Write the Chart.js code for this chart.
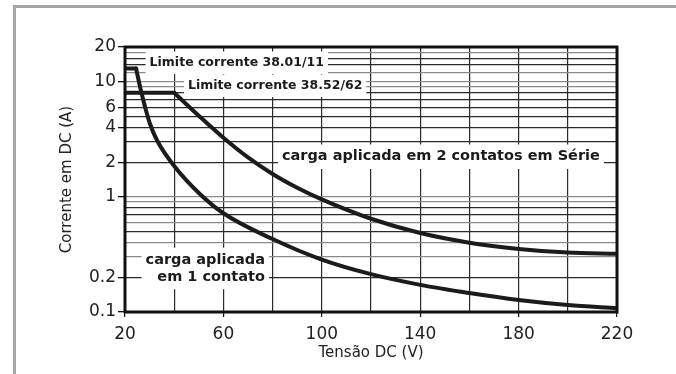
<!DOCTYPE html>
<html>
<head>
<meta charset="utf-8">
<script src="https://cdn.jsdelivr.net/npm/chart.js@4.4.1/dist/chart.umd.min.js"></script>
<style>
  html, body { margin: 0; padding: 0; background: #fff; }
  #wrap { position: relative; width: 676px; height: 374px; overflow: hidden; }
  #frame { position: absolute; left: 13px; top: 5px; right: -10px; bottom: -10px; border-top: 3px solid #a6a6a6; border-left: 3px solid #a6a6a6; }
  canvas { position: absolute; left: 0; top: 0; }
</style>
</head>
<body>
<div id="wrap">
  <div id="frame"></div>
  <canvas id="dcChart" width="676" height="374"></canvas>
</div>
<script>
// current limit of 38.01/11, then load applied on 1 contact
const limit1V = [20, 24.5];
const limit1A = [13, 13];
const volts1 = [24.5, 26.4, 28.1, 30, 33, 40, 50, 60, 80, 100, 120, 140, 160, 180, 200, 220];
const amps1 = [13, 8.5, 6.1, 4.4, 3.1, 1.85, 1.08, 0.72, 0.43, 0.285, 0.213, 0.172, 0.146, 0.127, 0.115, 0.108];

// current limit of 38.52/62, then load applied on 2 contacts in series
const limit2V = [20, 40];
const limit2A = [8, 8];
const volts2 = [40, 50, 60, 70, 80, 90, 100, 120, 140, 160, 180, 200, 220];
const amps2 = [8, 5.05, 3.26, 2.2, 1.58, 1.2, 0.95, 0.645, 0.485, 0.40, 0.353, 0.328, 0.32];

// axes
const xGrid = [20, 40, 60, 80, 100, 120, 140, 160, 180, 200, 220];
const xLabels = [20, 60, 100, 140, 180, 220];
const yGrid = [0.1, 0.2, 0.3, 0.4, 0.5, 0.6, 0.7, 0.8, 0.9, 1, 2, 3, 4, 5, 6, 7, 8, 9, 10, 12, 14, 16, 18, 20];
const yLabels = [0.1, 0.2, 1, 2, 4, 6, 10, 20];
const yDark = [0.2, 0.5, 0.7, 0.8, 2, 3, 4, 5, 6, 7, 8, 14, 16];

// notes written on the chart
const noteTexts = [['Limite corrente 38.01/11'], ['Limite corrente 38.52/62'], ['carga aplicada em 2 contatos em Série'], ['carga aplicada', 'em 1 contato']];
const noteX = [30, 45.6, 83.8, 76.9];
const noteY = [14.6, 9.2, 2.23, 0.283];
const noteAlign = ['left', 'left', 'left', 'right'];
const noteSizes = [12.5, 12.5, 14.5, 14.5];

const ink = '#1b1b1b';
const tickFont = { family: '"DejaVu Sans", sans-serif', size: 17 };
const titleFont = { family: '"DejaVu Sans", sans-serif', size: 15 };

const curve = (label, xs, ys) => ({
    label,
    data: xs.map((v, i) => ({ x: v, y: ys[i] })),
    showLine: true,
    borderColor: ink,
    borderWidth: 4,
    borderCapStyle: 'round',
    borderJoinStyle: 'round',
    pointRadius: 0,
    cubicInterpolationMode: 'monotone'
});

const notesPlugin = {
    id: 'notes',
    beforeDatasetsDraw(chart) {
        const { ctx, scales: { x, y } } = chart;
        ctx.save();
        noteTexts.forEach((lines, i) => {
            const size = noteSizes[i];
            ctx.font = `bold ${size}px "DejaVu Sans", sans-serif`;
            const px = x.getPixelForValue(noteX[i]);
            const py = y.getPixelForValue(noteY[i]);
            const w = Math.max(...lines.map(t => ctx.measureText(t).width));
            const lh = 17;
            const left = noteAlign[i] === 'right' ? px - w : px;
            ctx.fillStyle = '#fff';
            ctx.fillRect(left - 4, py - size / 2 - 5, w + 8, lh * (lines.length - 1) + size + 10);
            ctx.fillStyle = ink;
            ctx.textAlign = noteAlign[i];
            ctx.textBaseline = 'middle';
            lines.forEach((t, k) => ctx.fillText(t, px, py + k * lh));
        });
        ctx.restore();
    },
    afterDatasetsDraw(chart) {
        const { ctx, chartArea: a } = chart;
        ctx.save();
        ctx.strokeStyle = '#111';
        ctx.lineWidth = 3;
        ctx.strokeRect(a.left, a.top, a.right - a.left, a.bottom - a.top);
        ctx.restore();
    }
};

new Chart(document.getElementById('dcChart'), {
    type: 'scatter',
    data: {
        datasets: [
            curve('Limite corrente 38.01/11', limit1V, limit1A),
            curve('carga aplicada em 1 contato', volts1, amps1),
            curve('Limite corrente 38.52/62', limit2V, limit2A),
            curve('carga aplicada em 2 contatos em Série', volts2, amps2)
        ]
    },
    options: {
        responsive: false,
        animation: false,
        layout: { padding: { left: 0, top: 47, right: 59, bottom: 0 } },
        plugins: { legend: { display: false }, tooltip: { enabled: false } },
        scales: {
            x: {
                type: 'linear',
                min: 20,
                max: 220,
                afterFit: s => { s.height = 62; },
                afterBuildTicks: s => { s.ticks = xGrid.map(v => ({ value: v })); },
                ticks: {
                    autoSkip: false,
                    maxRotation: 0,
                    padding: 7,
                    color: '#222',
                    font: tickFont,
                    callback: v => xLabels.includes(v) ? String(v) : ''
                },
                grid: {
                    color: '#2a2a2a',
                    lineWidth: 1.2,
                    tickLength: 5,
                    tickColor: c => xLabels.includes(c.tick.value) ? '#111' : 'rgba(0,0,0,0)'
                },
                border: { display: false },
                title: { display: true, text: 'Tensão DC (V)', color: '#222', font: titleFont, padding: { top: 0, bottom: 12 } }
            },
            y: {
                type: 'logarithmic',
                min: 0.1,
                max: 20,
                afterFit: s => { s.width = 125; },
                afterBuildTicks: s => { s.ticks = yGrid.map(v => ({ value: v })); },
                ticks: {
                    autoSkip: false,
                    padding: 2,
                    color: '#222',
                    font: tickFont,
                    callback: v => yLabels.includes(v) ? String(v) : ''
                },
                grid: {
                    color: c => yDark.includes(c.tick.value) ? '#2a2a2a' : '#8a8a8a',
                    lineWidth: 1.3,
                    tickLength: 7,
                    tickColor: c => yLabels.includes(c.tick.value) ? '#111' : 'rgba(0,0,0,0)'
                },
                border: { display: false },
                title: { display: true, text: 'Corrente em DC (A)', color: '#222', font: titleFont, padding: { top: 58, bottom: 0 } }
            }
        }
    },
    plugins: [notesPlugin]
});
</script>
</body>
</html>
